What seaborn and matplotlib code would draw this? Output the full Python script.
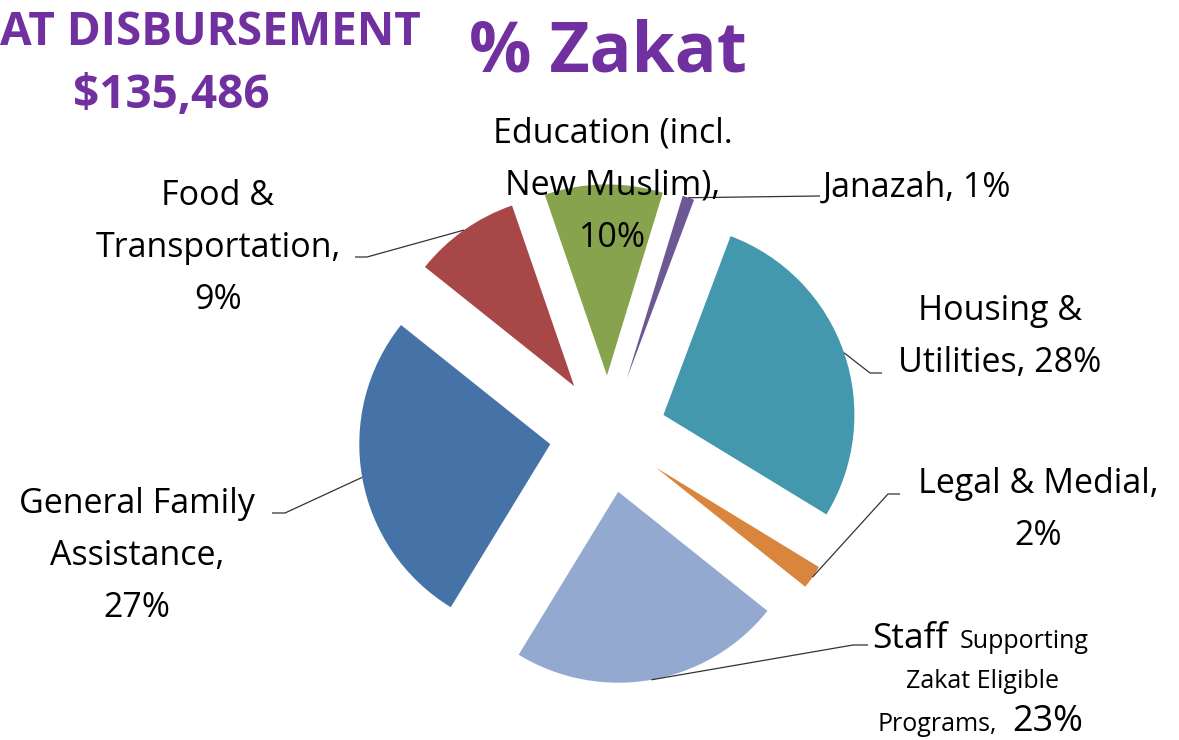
import numpy as np
import seaborn as sns
import matplotlib.pyplot as plt

# Slices in clockwise order, starting just right of 12 o'clock
categories = ["Janazah", "Housing & Utilities", "Legal & Medial",
              "Staff Supporting Zakat Eligible Programs",
              "General Family Assistance", "Food & Transportation",
              "Education (incl. New Muslim)"]
shares = [1, 28, 2, 23, 27, 9, 10]
colors = ["#6E5893", "#4398AE", "#DA853E", "#94A9D0",
          "#4573A7", "#A84747", "#87A34E"]

title = "% Zakat"
side_title = ["AT DISBURSEMENT", "$135,486"]

# label text lines ({p} is the share), anchor x, first baseline y (px from top), alignment
label_lines = {
    "Janazah": (["Janazah, {p}"], 823, 197, "left"),
    "Housing & Utilities": (["Housing &", "Utilities, {p}"], 1000, 320, "center"),
    "Legal & Medial": (["Legal & Medial,", "{p}"], 1038, 493, "center"),
    "General Family Assistance": (["General Family", "Assistance,", "{p}"], 137, 513, "center"),
    "Food & Transportation": (["Food &", "Transportation,", "{p}"], 218, 205, "center"),
    "Education (incl. New Muslim)": (["Education (incl.", "New Muslim),", "{p}"], 613, 143, "center"),
}
# leader line bends (px from top), ending at the slice's outer arc
leaders = {
    "Janazah": [(820, 196)],
    "Housing & Utilities": [(882, 373), (870, 373)],
    "Legal & Medial": [(900, 494), (888, 494)],
    "Staff Supporting Zakat Eligible Programs": [(868, 645), (853, 645)],
    "General Family Assistance": [(272, 513), (285, 513)],
    "Food & Transportation": [(355, 257), (367, 257)],
}

W, H = 1179, 740
fy = lambda y: H - y

sns.set_theme(style="white")
plt.rcParams['font.family'] = ['Open Sans', 'DejaVu Sans']
plt.rcParams['text.color'] = 'black'

fig = plt.figure(figsize=(W / 100, H / 100), dpi=100)
ax = fig.add_axes([0, 0, 1, 1])

wedges, _ = ax.pie(shares, colors=colors, startangle=73, counterclock=False,
                   explode=[58.6] * len(shares), radius=191, center=(608, fy(434)),
                   wedgeprops=dict(linewidth=0))
ax.set_xlim(0, W)
ax.set_ylim(0, H)
ax.set_aspect("equal")
ax.axis("off")

# leader lines
for cat, w in zip(categories, wedges):
    if cat not in leaders:
        continue
    tm = np.deg2rad((w.theta1 + w.theta2) / 2)
    ax_, ay_ = w.center[0] + w.r * np.cos(tm), w.center[1] + w.r * np.sin(tm)
    pts = [(x, fy(y)) for x, y in leaders[cat]] + [(ax_, ay_)]
    xs, ys = zip(*pts)
    ax.plot(xs, ys, color="#333333", lw=0.9, solid_capstyle="butt")

# data labels
fs = 24.5
for cat, p in zip(categories, shares):
    if cat not in label_lines:
        continue
    lines, x, y0, ha = label_lines[cat]
    for i, ln in enumerate(lines):
        ax.text(x, fy(y0 + i * 52), ln.format(p=f"{p}%"), ha=ha, va="baseline",
                fontsize=fs, color="black")

# staff label has mixed font sizes
staff = shares[categories.index("Staff Supporting Zakat Eligible Programs")]
ax.text(872, fy(648), "Staff", ha="left", va="baseline", fontsize=25.5, color="black")
ax.text(960, fy(648), "Supporting", ha="left", va="baseline", fontsize=18, color="black")
ax.text(982, fy(688), "Zakat Eligible", ha="center", va="baseline", fontsize=18, color="black")
ax.text(878, fy(731), "Programs,", ha="left", va="baseline", fontsize=18, color="black")
ax.text(1012, fy(731), f"{staff}%", ha="left", va="baseline", fontsize=26, color="black")

# titles
purple = "#7030A0"
ax.text(608, fy(72), title, ha="center", va="baseline", fontsize=50,
        fontweight="bold", color=purple)
ax.text(0, fy(45), side_title[0], ha="left", va="baseline", fontsize=33,
        fontweight="bold", color=purple)
ax.text(171, fy(108), side_title[1], ha="center", va="baseline", fontsize=33,
        fontweight="bold", color=purple)

plt.savefig("out.png", dpi=100)
